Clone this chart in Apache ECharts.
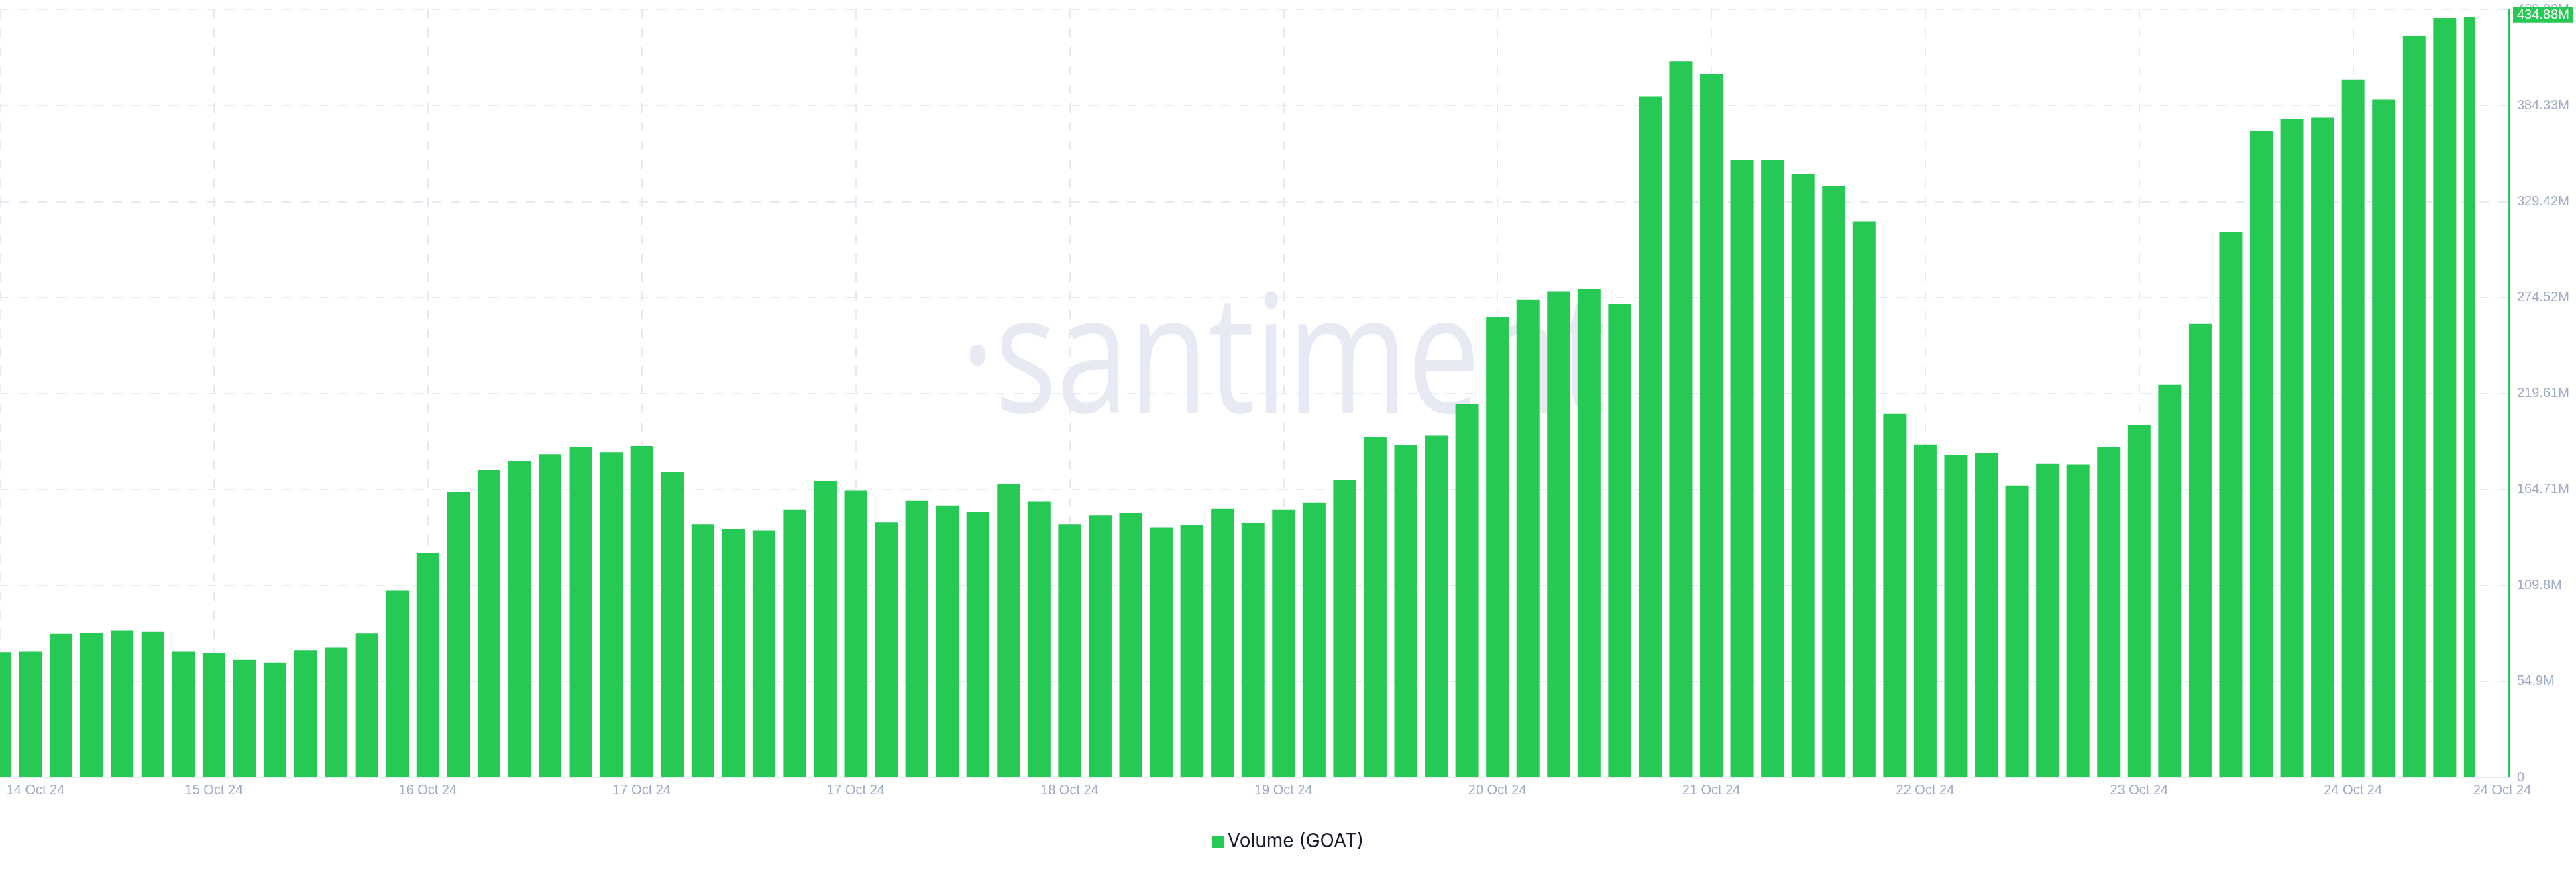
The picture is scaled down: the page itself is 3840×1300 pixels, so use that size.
<!DOCTYPE html>
<html>
<head>
<meta charset="utf-8">
<script src="https://cdn.jsdelivr.net/npm/echarts@6/dist/echarts.min.js"></script>
<style>
html,body{margin:0;padding:0;background:#fff;}
#chart{width:3840px;height:1300px;}
</style>
</head>
<body>
<div id="chart"></div>
<script>
// ---- data (3-hourly GOAT volume, in millions) ----
const seriesName = 'Volume (GOAT)';
const volumes = [
  71.6, 71.9, 82.2, 82.7, 84.2, 83.3, 71.9, 71.0, 67.2, 65.7,
  72.8, 74.2, 82.4, 106.8, 128.2, 163.4, 175.8, 180.7, 184.8, 189.0,
  186.0, 189.5, 174.6, 144.9, 142.0, 141.4, 153.2, 169.6, 164.0, 146.1,
  158.1, 155.5, 151.7, 167.8, 157.9, 144.9, 149.9, 151.1, 142.9, 144.4,
  153.5, 145.5, 153.2, 157.0, 169.9, 194.8, 190.1, 195.4, 213.3, 263.5,
  273.2, 277.9, 279.3, 270.8, 389.6, 409.6, 402.3, 353.3, 353.0, 345.1,
  338.0, 317.8, 208.0, 190.4, 184.3, 185.4, 167.0, 179.6, 179.0, 189.0,
  201.6, 224.5, 259.4, 311.9, 369.7, 376.4, 377.3, 399.0, 387.6, 424.3,
  434.2, 434.88
];
// x tick labels: one every 7 bars, plus one at the axis end
const xTickLabels = ['14 Oct 24','15 Oct 24','16 Oct 24','17 Oct 24','17 Oct 24','18 Oct 24',
  '19 Oct 24','20 Oct 24','21 Oct 24','22 Oct 24','23 Oct 24','24 Oct 24','24 Oct 24'];
const yTickLabels = ['0','54.9M','109.8M','164.71M','219.61M','274.52M','329.42M','384.33M','439.23M'];
const yMax = 439.23;

// ---- styling ----
const GREEN = '#26c953';
const LABEL = '#9faac4';
const GRIDC = '#e7eaf3';
const X_STEP = 7;
const X_MAX = 82.1;
const Y_INTERVAL = yMax / 8;
const BAR_RATIO = 0.746;
const lastIdx = volumes.length - 1;

const chart = echarts.init(document.getElementById('chart'), null, {renderer: 'canvas'});

const option = {
  animation: false,
  backgroundColor: '#ffffff',
  textStyle: {fontFamily: '"Liberation Sans", Arial, sans-serif'},
  grid: {left: 0, right: 100, top: 14, bottom: 141, containLabel: false},
  graphic: [{
    type: 'text',
    x: 1432, y: 545,
    scaleX: 0.79,
    z: 0,
    silent: true,
    style: {
      text: '·santiment',
      font: 'normal 245px "Open Sans"',
      fill: '#e7eaf3',
      verticalAlign: 'middle',
      align: 'left'
    }
  }],
  legend: {
    top: 1236,
    left: 'center',
    icon: 'rect',
    itemWidth: 18,
    itemHeight: 18,
    itemGap: 10,
    textStyle: {fontSize: 28, color: '#181b2b', fontFamily: 'Inter, "Noto Sans", sans-serif'},
    data: [seriesName]
  },
  xAxis: {
    type: 'value',
    min: 0,
    max: X_MAX,
    interval: X_STEP,
    axisLine: {show: true, onZero: false, lineStyle: {color: GRIDC, width: 2}},
    axisTick: {show: false},
    splitLine: {show: true, lineStyle: {color: GRIDC, width: 2, type: [14, 14]}},
    axisLabel: {
      color: LABEL,
      fontSize: 20,
      margin: 9,
      formatter: function (value) {
        const lastTick = (xTickLabels.length - 2) * X_STEP;
        const idx = value > lastTick + 0.5 ? xTickLabels.length - 1 : Math.round(value / X_STEP);
        const t = xTickLabels[idx];
        if (idx === 0) return '{first|' + t + '}';
        if (idx === xTickLabels.length - 1) return '{last|' + t + '}';
        return t;
      },
      rich: {
        first: {padding: [0, 0, 0, 106], fontSize: 20, color: LABEL},
        last: {padding: [0, 20, 0, 0], fontSize: 20, color: LABEL}
      }
    }
  },
  yAxis: {
    type: 'value',
    position: 'right',
    min: 0,
    max: yMax,
    interval: Y_INTERVAL,
    axisLine: {show: true, onZero: false, lineStyle: {color: GREEN, width: 2}},
    axisTick: {show: false},
    splitLine: {show: true, lineStyle: {color: GRIDC, width: 2, type: [14, 14]}},
    axisLabel: {
      color: LABEL,
      fontSize: 20,
      margin: 12,
      formatter: function (value) {
        return yTickLabels[Math.round(value / Y_INTERVAL)];
      }
    }
  },
  series: [{
    name: seriesName,
    type: 'custom',
    z: 2,
    clip: false,
    itemStyle: {color: GREEN},
    encode: {x: 0, y: 1},
    data: volumes.map(function (v, i) { return [i, v]; }),
    renderItem: function (params, api) {
      const i = api.value(0), v = api.value(1);
      const top = api.coord([i, v]);
      const base = api.coord([i, 0]);
      const band = api.size([1, 0])[0];
      const w = band * BAR_RATIO;
      const firstX = api.coord([0, 0])[0];
      const lastX = api.coord([lastIdx, 0])[0];
      const x0 = Math.max(top[0] - w / 2, firstX);
      const x1 = Math.min(top[0] + w / 2, lastX);
      const bar = {
        type: 'rect',
        shape: {x: x0, y: top[1], width: x1 - x0, height: base[1] - top[1]},
        style: {fill: api.visual('color')}
      };
      if (params.dataIndex !== lastIdx) return bar;
      // last-value badge on the y axis
      const axisPt = api.coord([X_MAX, v]);
      return {
        type: 'group',
        children: [bar, {
          type: 'text',
          x: axisPt[0] + 6,
          y: axisPt[1] - 3,
          z2: 100,
          style: {
            text: v.toFixed(2) + 'M',
            fill: '#ffffff',
            font: '20px "Liberation Sans", Arial, sans-serif',
            backgroundColor: GREEN,
            padding: [2, 6, 1, 6],
            lineHeight: 20,
            align: 'left',
            verticalAlign: 'middle'
          }
        }]
      };
    }
  }]
};

chart.setOption(option);
</script>
</body>
</html>
